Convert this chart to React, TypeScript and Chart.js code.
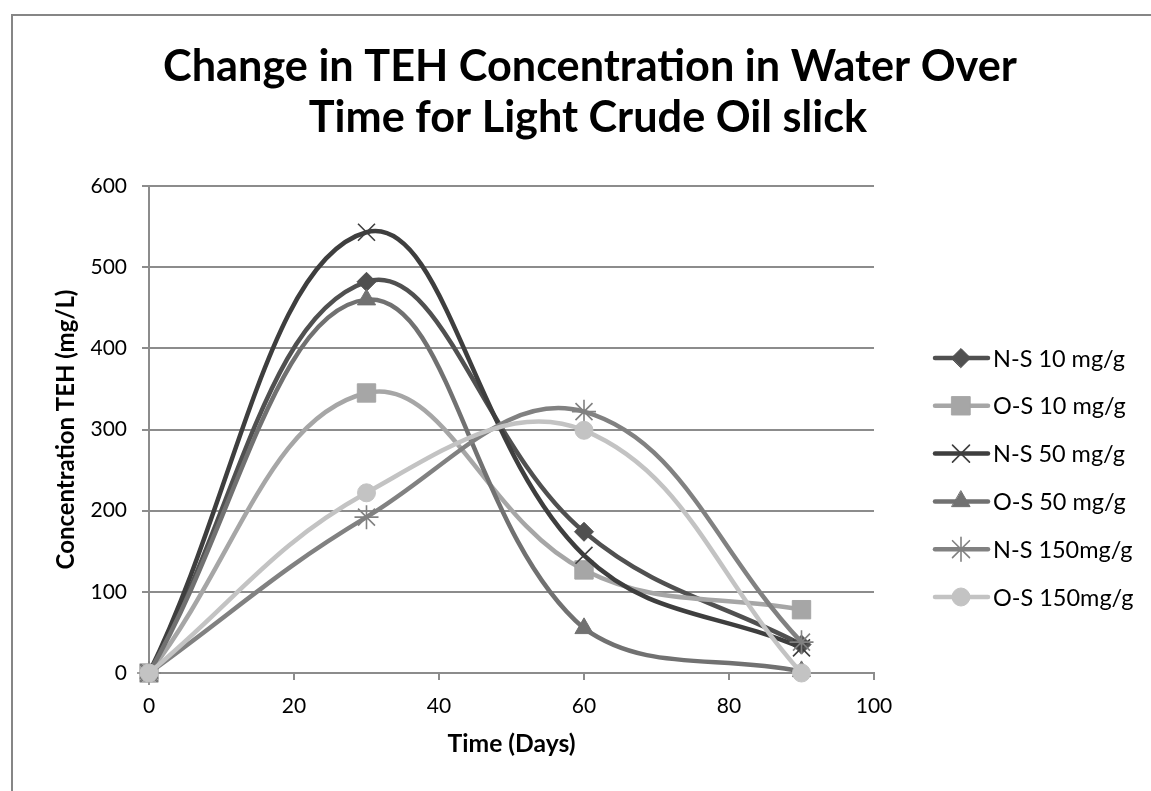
import React, { useEffect, useRef } from "react";
import { Chart, registerables } from "chart.js";
import { drawPoint } from "chart.js/helpers";
Chart.register(...registerables);

// ---- data ----
const days = [0, 30, 60, 90];
const seriesNames = ["N-S 10 mg/g", "O-S 10 mg/g", "N-S 50 mg/g", "O-S 50 mg/g", "N-S 150mg/g", "O-S 150mg/g"];
const ns10 = [0, 482, 174, 35];
const os10 = [0, 345, 127, 78];
const ns50 = [0, 543, 145, 31];
const os50 = [0, 460, 55, 2];
const ns150 = [0, 192, 322, 38];
const os150 = [0, 222, 299, 0];
const seriesValues = [ns10, os10, ns50, os50, ns150, os150];
const titleLines = ["Change in TEH Concentration in Water Over", "Time for Light Crude Oil slick"];
const xTitle = "Time (Days)";
const yTitle = "Concentration TEH (mg/L)";

// ---- styles ----
const colors = ["#505050", "#a6a6a6", "#3e3e3e", "#717171", "#818181", "#c3c3c3"];
const pointStyles = ["rectRot", "rect", "crossRot", "triangle", "star", "circle"];
const pointRadii = [9.5, 13, 12, 10.5, 12, 9];
const pointBorders = [1, 1, 1.6, 1, 1.6, 1];
const FONT = "Lato, 'Open Sans', sans-serif";
const GRID = "#8c8c8c";

function fitSize(text: string, weight: string, target: number): number {
  const c = document.createElement("canvas").getContext("2d")!;
  c.font = `${weight} 100px ${FONT}`;
  const w = c.measureText(text).width;
  return (100 * target) / w;
}

export default function App() {
  const ref = useRef<HTMLCanvasElement | null>(null);
  useEffect(() => {
    const canvas = ref.current!;
    const titleSize = fitSize(titleLines[0], "bold", 854);
    const yTitleSize = fitSize(yTitle, "bold", 280);
    const xTitleSize = fitSize(xTitle, "bold", 128);
    const legendSize = fitSize(seriesNames[0], "normal", 132);

    const framePlugin = {
      id: "frame",
      beforeDraw(chart: any) {
        const ctx = chart.ctx;
        ctx.save();
        ctx.fillStyle = "#ffffff";
        ctx.fillRect(0, 0, chart.width, chart.height);
        ctx.strokeStyle = "#868686";
        ctx.lineWidth = 2;
        ctx.strokeRect(12, 15, chart.width + 20, chart.height + 20);
        ctx.restore();
      },
      afterDraw(chart: any) {
        const ctx = chart.ctx;
        ctx.save();
        ctx.fillStyle = "#000";
        ctx.textAlign = "center";
        ctx.textBaseline = "alphabetic";
        ctx.font = `bold ${titleSize}px ${FONT}`;
        ctx.fillText(titleLines[0], 590, 81);
        ctx.fillText(titleLines[1], 588, 132);
        // legend
        ctx.textAlign = "left";
        ctx.textBaseline = "middle";
        ctx.font = `${legendSize}px ${FONT}`;
        seriesNames.forEach((name, i) => {
          const y = 358 + i * 47.8;
          ctx.strokeStyle = colors[i];
          ctx.lineWidth = 4.5;
          ctx.lineCap = "round";
          ctx.beginPath();
          ctx.moveTo(935, y);
          ctx.lineTo(988, y);
          ctx.stroke();
          ctx.fillStyle = colors[i];
          ctx.strokeStyle = colors[i];
          ctx.lineWidth = pointBorders[i];
          drawPoint(ctx, { pointStyle: pointStyles[i], radius: pointRadii[i], rotation: 0, borderWidth: pointBorders[i] } as any, 961, y);
          ctx.fillStyle = "#000";
          ctx.fillText(name, 993, y + 1);
        });
        ctx.restore();
      },
    };

    const chart = new Chart(canvas, {
      type: "line",
      data: {
        datasets: seriesNames.map((name, i) => ({
          label: name,
          data: days.map((d, j) => ({ x: d, y: seriesValues[i][j] })),
          borderColor: colors[i],
          backgroundColor: colors[i],
          borderWidth: 4.5,
          tension: 0.4,
          pointStyle: pointStyles[i] as any,
          pointRadius: pointRadii[i],
          pointBorderWidth: pointBorders[i],
          pointBackgroundColor: colors[i],
          pointBorderColor: colors[i],
          order: 6 - i,
          clip: false as any,
          fill: false,
        })),
      },
      options: {
        animation: false,
        responsive: false,
        layout: { padding: { left: 48, right: 277, top: 186, bottom: 28 } },
        plugins: { legend: { display: false }, title: { display: false }, tooltip: { enabled: false } },
        scales: {
          x: {
            type: "linear",
            min: 0,
            max: 100,
            ticks: { stepSize: 20, color: "#000", padding: 14, font: { family: FONT, size: 21 } },
            grid: { drawOnChartArea: false, drawTicks: true, tickLength: 7, color: GRID, lineWidth: 2 },
            border: { display: true, color: GRID, width: 2 },
            title: { display: true, text: xTitle, color: "#000", font: { family: FONT, size: xTitleSize, weight: "bold" }, padding: { top: 4, bottom: 4 } },
            afterFit(scale: any) { scale.height = 791 - 28 - 673; },
          },
          y: {
            min: 0,
            max: 600,
            ticks: { stepSize: 100, color: "#000", padding: 15, font: { family: FONT, size: 21 } },
            grid: { drawTicks: true, tickLength: 7, color: GRID, lineWidth: 2 },
            border: { display: true, color: GRID, width: 2 },
            title: { display: true, text: yTitle, color: "#000", font: { family: FONT, size: yTitleSize, weight: "bold" }, padding: { top: 4, bottom: 4 } },
            afterFit(scale: any) { scale.width = 149 - 48; },
          },
        },
      },
      plugins: [framePlugin],
    });
    return () => chart.destroy();
  }, []);
  return (
    <div style={{ position: "fixed", left: 0, top: 0, width: 1151, height: 791, background: "#fff" }}>
      <canvas ref={ref} width={1151} height={791} style={{ display: "block" }} />
    </div>
  );
}
